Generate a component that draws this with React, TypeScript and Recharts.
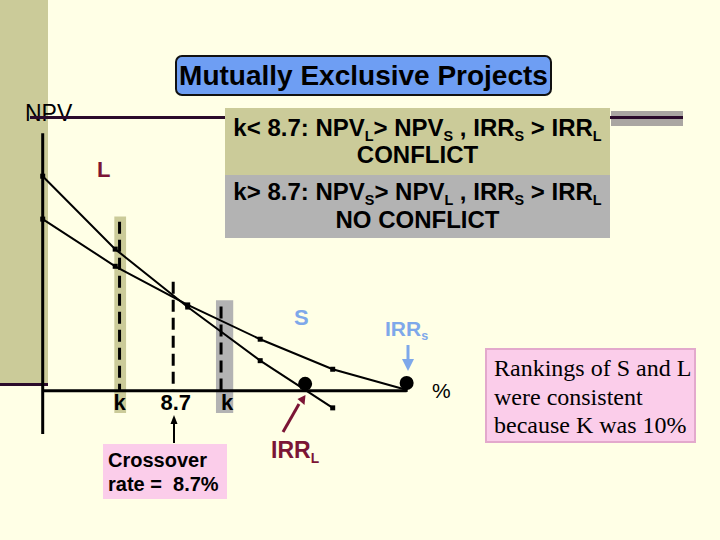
import React from "react";
import {
  ComposedChart,
  Line,
  Scatter,
  XAxis,
  YAxis,
  ReferenceLine,
  ReferenceArea,
} from "recharts";

// NPV profiles (discount rate in %, NPV)
const ratesL = [0, 5, 10, 15, 20];
const npvL = [50, 33, 19.5, 7, -4];
const ratesS = [0, 5, 10, 15, 20, 25];
const npvS = [40, 29, 20, 12, 5, 0.3];

// IRR points where each profile meets the axis
const irrRates = [18.1, 25.1];
const irrNpv = [1.6, 1.8];

// cost of capital markers and crossover
const kRates = [5.3, 12.3];
const kTops = [39.4, 19.6];
const crossoverRate = 9.0;
const crossoverTop = 25.4;
const crossoverLabel = "8.7";

const dataL = ratesL.map((rate, i) => ({ rate, npv: npvL[i] }));
const dataS = ratesS.map((rate, i) => ({ rate, npv: npvS[i] }));
const irrData = irrRates.map((rate, i) => ({ rate, npv: irrNpv[i] }));

const BG = "#ffffe6";
const TAN = "#cbcb99";
const GRAY = "#b3b3b3";
const PINK = "#fbcdea";
const BLUE = "#6e9ef3";
const LIGHT_BLUE = "#7ea8ea";
const DARK_RED = "#7b1535";
const SANS = '"Liberation Sans", Arial, sans-serif';

const SquareDot = (props: any) => {
  const { cx, cy } = props;
  if (cx == null || cy == null) return null;
  return <rect x={cx - 2.5} y={cy - 2.5} width={5} height={5} fill="#000" />;
};

const BigDot = (props: any) => {
  const { cx, cy } = props;
  return <circle cx={cx} cy={cy} r={7} fill="#000" />;
};

const belowLabel = (text: string, dx: number) => (props: any) => {
  const vb = props.viewBox;
  return (
    <text
      x={vb.x + dx}
      y={vb.y + vb.height + 19}
      textAnchor="middle"
      fontSize={22}
      fontWeight="bold"
      fontFamily={SANS}
      fill="#000"
    >
      {text}
    </text>
  );
};

const Sub = ({ children }: { children: React.ReactNode }) => (
  <span style={{ fontSize: "60%", position: "relative", top: "0.35em", lineHeight: 0 }}>
    {children}
  </span>
);

const abs = (left: number, top: number, extra: React.CSSProperties = {}): React.CSSProperties => ({
  position: "absolute",
  left,
  top,
  ...extra,
});

export default function App() {
  return (
    <div
      style={{
        position: "absolute",
        left: 0,
        top: 0,
        width: 720,
        height: 540,
        background: BG,
        overflow: "hidden",
        fontFamily: SANS,
      }}
    >
      {/* slide decoration */}
      <div style={abs(0, 0, { width: 48, height: 384, background: TAN })} />
      <div style={abs(0, 382.5, { width: 48, height: 3, background: "#2b0b2b" })} />
      <div style={abs(611, 111, { width: 72, height: 15, background: "#aaa6a2" })} />

      <div style={abs(25, 100, { fontSize: 23, lineHeight: "26px", color: "#000" })}>NPV</div>
      <div style={abs(30, 115.5, { width: 653, height: 3, background: "#2b0b2b" })} />

      <div style={abs(0, 0)}>
        <ComposedChart
          width={720}
          height={540}
          margin={{ top: 133.3, right: 242.3, bottom: 20.6, left: 42.7 }}
        >
          <XAxis type="number" dataKey="rate" domain={[0, 30]} hide />
          <YAxis type="number" dataKey="npv" domain={[-30, 60]} hide />

          <ReferenceArea x1={4.94} x2={5.75} y1={-5.2} y2={40.6} fill={TAN} fillOpacity={1} stroke="none" />
          <ReferenceArea x1={11.95} x2={13.14} y1={-5.2} y2={21.1} fill={GRAY} fillOpacity={1} stroke="none" />

          <ReferenceLine
            segment={[{ x: kRates[0], y: kTops[0] }, { x: kRates[0], y: 0 }]}
            stroke="#000"
            strokeWidth={3}
            strokeDasharray="12 6"
            label={belowLabel("k", 0)}
          />
          <ReferenceLine
            segment={[{ x: crossoverRate, y: crossoverTop }, { x: crossoverRate, y: 0 }]}
            stroke="#000"
            strokeWidth={3}
            strokeDasharray="12 6"
            label={belowLabel(crossoverLabel, 2.5)}
          />
          <ReferenceLine
            segment={[{ x: kRates[1], y: kTops[1] }, { x: kRates[1], y: 0 }]}
            stroke="#000"
            strokeWidth={3}
            strokeDasharray="12 6"
            label={belowLabel("k", 6)}
          />

          {/* axes */}
          <ReferenceLine segment={[{ x: 0, y: 60 }, { x: 0, y: -10.1 }]} stroke="#000" strokeWidth={3} />
          <ReferenceLine segment={[{ x: 0, y: 0 }, { x: 25.1, y: 0 }]} stroke="#000" strokeWidth={3} />

          <Line
            data={dataL}
            dataKey="npv"
            type="linear"
            stroke="#000"
            strokeWidth={2}
            dot={<SquareDot />}
            isAnimationActive={false}
          />
          <Line
            data={dataS}
            dataKey="npv"
            type="linear"
            stroke="#000"
            strokeWidth={2}
            dot={<SquareDot />}
            isAnimationActive={false}
          />
          <Scatter data={irrData} dataKey="npv" shape={<BigDot />} isAnimationActive={false} />
        </ComposedChart>
      </div>

      {/* annotations */}
      <div
        style={abs(175, 55, {
          width: 377,
          height: 41,
          boxSizing: "border-box",
          border: "2px solid #111",
          borderRadius: 7,
          background: BLUE,
          fontSize: 28,
          fontWeight: "bold",
          lineHeight: "37px",
          textAlign: "center",
          color: "#000",
          whiteSpace: "nowrap",
        })}
      >
        Mutually Exclusive Projects
      </div>

      <div
        style={abs(225, 108, {
          width: 385,
          height: 67,
          boxSizing: "border-box",
          paddingTop: 6,
          background: TAN,
          fontSize: 24,
          fontWeight: "bold",
          lineHeight: "27px",
          textAlign: "center",
          whiteSpace: "nowrap",
        })}
      >
        <div>
          k&lt; 8.7: NPV<Sub>L</Sub>&gt; NPV<Sub>S</Sub> , IRR<Sub>S</Sub> &gt; IRR<Sub>L</Sub>
        </div>
        <div>CONFLICT</div>
      </div>
      <div
        style={abs(225, 175, {
          width: 385,
          height: 63,
          boxSizing: "border-box",
          paddingTop: 3,
          background: GRAY,
          fontSize: 24,
          fontWeight: "bold",
          lineHeight: "28px",
          textAlign: "center",
          whiteSpace: "nowrap",
        })}
      >
        <div>
          k&gt; 8.7: NPV<Sub>S</Sub>&gt; NPV<Sub>L</Sub> , IRR<Sub>S</Sub> &gt; IRR<Sub>L</Sub>
        </div>
        <div>NO CONFLICT</div>
      </div>

      <div style={abs(97, 158, { fontSize: 22, fontWeight: "bold", lineHeight: "24px", color: DARK_RED })}>L</div>
      <div style={abs(294, 306, { fontSize: 22, fontWeight: "bold", lineHeight: "24px", color: LIGHT_BLUE })}>S</div>
      <div style={abs(385, 317, { fontSize: 21, fontWeight: "bold", lineHeight: "24px", color: LIGHT_BLUE })}>
        IRR<Sub>s</Sub>
      </div>
      <div style={abs(432, 379, { fontSize: 21, lineHeight: "24px", color: "#000" })}>%</div>
      <div style={abs(271, 438, { fontSize: 23, fontWeight: "bold", lineHeight: "24px", color: DARK_RED })}>
        IRR<Sub>L</Sub>
      </div>

      <div
        style={abs(103, 444, {
          width: 124,
          height: 55,
          boxSizing: "border-box",
          padding: "4px 0 0 5px",
          background: PINK,
          fontSize: 20,
          fontWeight: "bold",
          lineHeight: "24px",
          whiteSpace: "pre",
        })}
      >
        <div>Crossover</div>
        <div>rate =  8.7%</div>
      </div>

      <div
        style={abs(485, 348, {
          width: 211,
          height: 95,
          boxSizing: "border-box",
          padding: "4px 0 0 7px",
          background: PINK,
          border: "2px solid #e3a9cc",
          fontFamily: '"Liberation Serif", "Times New Roman", serif',
          fontSize: 24,
          lineHeight: "28.5px",
          whiteSpace: "nowrap",
        })}
      >
        <div>Rankings of S and L</div>
        <div>were consistent</div>
        <div>because K was 10%</div>
      </div>

      <svg width={720} height={540} style={abs(0, 0, { pointerEvents: "none" })}>
        <line x1={408} y1={345} x2={408} y2={360} stroke={LIGHT_BLUE} strokeWidth={3} />
        <polygon points="402,359 414,359 408,371" fill={LIGHT_BLUE} />
        <line x1={283} y1={432} x2={299} y2={404} stroke={DARK_RED} strokeWidth={3} />
        <polygon points="297.5,399 305.5,395 304.5,405" fill={DARK_RED} />
        <line x1={174} y1={443} x2={174} y2={423} stroke="#000" strokeWidth={2} />
        <polygon points="170.5,424 177.5,424 174,415" fill="#000" />
      </svg>
    </div>
  );
}
